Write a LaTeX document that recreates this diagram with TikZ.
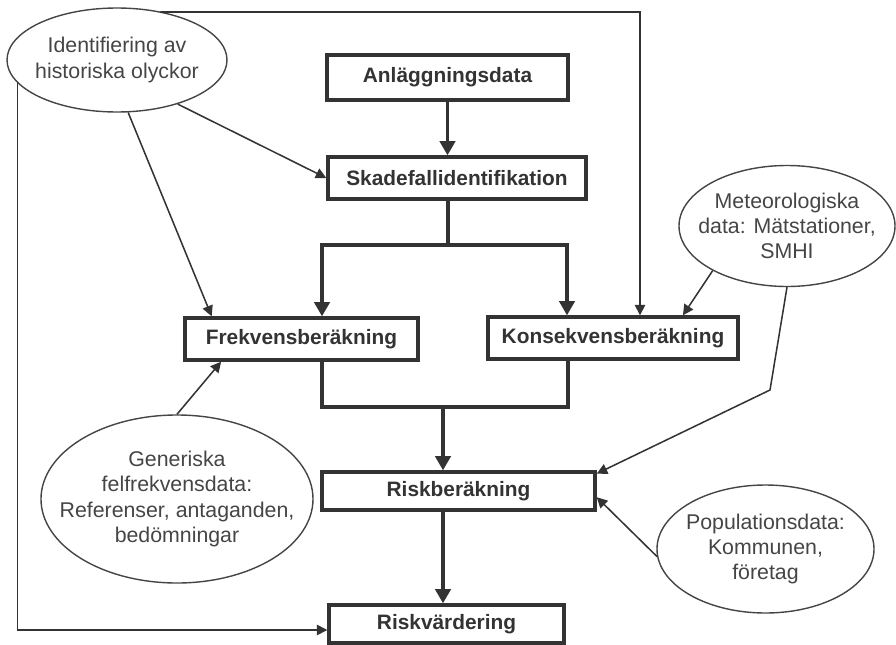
\documentclass[tikz,border=0pt]{standalone}
\usepackage{fontspec}
\setmainfont{Liberation Sans}
\usepackage{tikz}
\usetikzlibrary{shapes.geometric,arrows.meta,positioning,calc}

\definecolor{ink}{HTML}{333333}
\definecolor{softink}{HTML}{454545}

\begin{document}
\begin{tikzpicture}[
  x=0.03cm, y=-0.03cm,
  box/.style={rectangle, draw=ink, line width=2.9pt, align=center, text=ink,
              font=\fontsize{17.8}{21}\selectfont\bfseries, inner sep=0pt},
  oval/.style={ellipse, draw=softink, line width=1.2pt, inner sep=0pt},
  ovaltext/.style={align=center, text=softink, inner sep=0pt,
                   font=\fontsize{18.2}{21.5}\selectfont},
  flow/.style={-{Triangle[length=12pt, width=13pt]}, draw=ink, line width=2.7pt},
  bar/.style={draw=ink, line width=2.7pt},
  arrow/.style={-{Triangle[length=9pt, width=9pt]}, draw=ink, line width=1.3pt}
]
  \useasboundingbox (0,0) rectangle (896,644);

  % calculation chain
  \node[box, minimum width=7.23cm, minimum height=1.35cm] (anl) at (447.5,77.5) {Anläggningsdata};
  \node[box, minimum width=7.74cm, minimum height=1.26cm] (skade) at (457,178) {Skadefallidentifikation};
  \node[box, minimum width=6.99cm, minimum height=1.26cm] (frek) at (301.5,339) {Frekvensberäkning};
  \node[box, minimum width=7.5cm, minimum height=1.26cm] (kons) at (613,338) {Konsekvensberäkning};
  \node[box, minimum width=8.19cm, minimum height=1.14cm] (risk) at (458.5,491) {Riskberäkning};
  \node[box, minimum width=7.05cm, minimum height=1.14cm] (varder) at (446.5,624) {Riskvärdering};

  % data sources
  \node[oval, minimum width=6.6cm, minimum height=3.12cm] (hist) at (117,60) {};
  \node[ovaltext] (hist-t) at (hist) {Identifiering av\\historiska olyckor};
  \node[oval, minimum width=6.48cm, minimum height=3.63cm] (met) at (787,226) {};
  \node[ovaltext] (met-t) at (met) {Meteorologiska\\data: Mätstationer,\\SMHI};
  \node[oval, minimum width=8.16cm, minimum height=5.04cm] (gen) at (177,499) {};
  \node[ovaltext] (gen-t) at (gen) {Generiska\\felfrekvensdata:\\Referenser, antaganden,\\bedömningar};
  \node[oval, minimum width=6.51cm, minimum height=3.84cm] (pop) at (765.5,549) {};
  \node[ovaltext] (pop-t) at (pop) {Populationsdata:\\Kommunen,\\företag};

  \coordinate (split) at (448,245);
  \coordinate (splitL) at (322,245);
  \coordinate (splitR) at (567,245);
  \coordinate (merge) at (443,407);
  \coordinate (mergeL) at (322,407);
  \coordinate (mergeR) at (568,407);
  \coordinate (topbend) at (640,12);
  \coordinate (leftbend) at (0,630);
  \coordinate (metbend) at (770,390);

  % main flow
  \draw[flow] (anl.south) -- (anl.south |- skade.north);
  \draw[bar] (skade.south -| split) -- (split);
  \draw[flow] (split) -- (splitL) -- (splitL |- frek.north);
  \draw[flow] (split) -- (splitR) -- (splitR |- kons.north);
  \draw[bar] (mergeL |- frek.south) -- (mergeL) -- (mergeR) -- (mergeR |- kons.south);
  \draw[flow] (merge) -- (merge |- risk.north);
  \draw[flow] (risk.south -| merge) -- (merge |- varder.north);

  % inputs
  \draw[arrow] (hist.324) -- (skade.west);
  \draw[arrow] (hist.282) -- ($(frek.north west)!0.12!(frek.north east)$);
  \draw[arrow] (hist.48) |- (topbend) -- (topbend |- kons.north);
  \draw[arrow] (hist.193) |- (varder.west |- leftbend);
  \draw[arrow] (gen.north) -- ($(frek.south west)!0.16!(frek.south east)$);
  \draw[arrow] (met.211) -- ($(kons.north west)!0.776!(kons.north east)$);
  \draw[arrow] (met.south) -- (metbend) -- ($(risk.north east)!0.08!(risk.south east)$);
  \draw[arrow] (pop.184) -- ($(risk.north east)!0.65!(risk.south east)$);
\end{tikzpicture}
\end{document}
